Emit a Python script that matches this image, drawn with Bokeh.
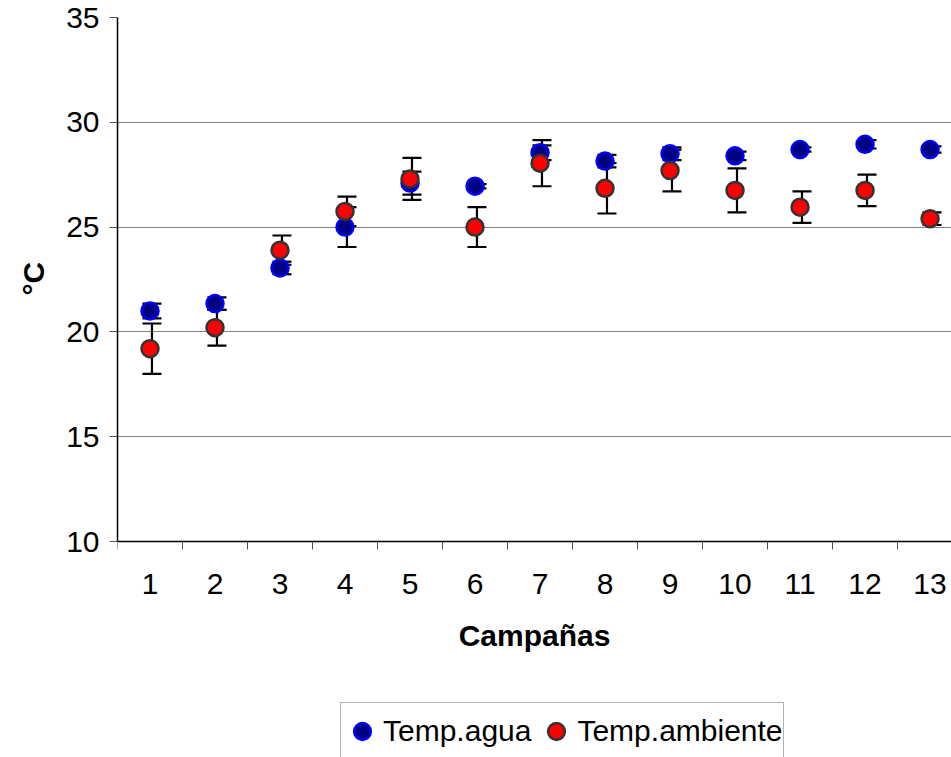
from bokeh.plotting import figure
from bokeh.models import (ColumnDataSource, Whisker, TeeHead, FixedTicker,
                          Legend, LegendItem, Range1d, Title)
from bokeh.transform import dodge
from bokeh.embed import file_html
from bokeh.resources import INLINE

# Campaign numbers
campanas = [1, 2, 3, 4, 5, 6, 7, 8, 9, 10, 11, 12, 13]
campana_labels = [str(c) for c in campanas]

# Water temperature (mean and deviation, °C)
temp_agua = [21.0, 21.35, 23.05, 25.0, 27.1, 26.95, 28.55, 28.15, 28.5, 28.4, 28.7, 28.95, 28.7]
temp_agua_err = [0.35, 0.3, 0.3, 0.95, 0.55, 0.1, 0.35, 0.3, 0.3, 0.2, 0.1, 0.2, 0.15]

# Air temperature (mean and deviation, °C)
temp_ambiente = [19.2, 20.2, 23.9, 25.75, 27.3, 25.0, 28.05, 26.85, 27.7, 26.75, 25.95, 26.75, 25.4]
temp_ambiente_err = [1.2, 0.85, 0.7, 0.7, 1.0, 0.95, 1.1, 1.2, 1.0, 1.05, 0.75, 0.75, 0.3]

y_ticks = [10, 15, 20, 25, 30, 35]

FONT = "Liberation Sans"
FS = "30px"


def with_bounds(vals, errs):
    return dict(x=campanas, y=vals,
                lo=[v - e for v, e in zip(vals, errs)],
                hi=[v + e for v, e in zip(vals, errs)])


src_agua = ColumnDataSource(with_bounds(temp_agua, temp_agua_err))
src_amb = ColumnDataSource(with_bounds(temp_ambiente, temp_ambiente_err))

# The frame runs down to the bottom of the canvas so that the legend can sit
# under the x axis; the x axis itself is pinned at y = 10.
p = figure(width=951, height=757, output_backend="svg", toolbar_location=None,
           x_range=Range1d(0.5, 13.33), y_range=Range1d(-0.305, 35),
           min_border_left=117, min_border_right=0,
           min_border_top=17, min_border_bottom=0)
p.outline_line_color = None
p.background_fill_color = "white"
p.border_fill_color = "white"

# x axis: labels at the campaign centres, tick marks between campaigns
p.xaxis.fixed_location = y_ticks[0]
p.xaxis.ticker = FixedTicker(ticks=campanas,
                             minor_ticks=[c - 0.5 for c in campanas] + [13.5])
p.xaxis.major_label_overrides = {c: l for c, l in zip(campanas, campana_labels)}
p.xaxis.major_tick_out = 0
p.xaxis.major_tick_in = 0
p.xaxis.minor_tick_out = 8
p.xaxis.minor_tick_in = 0
p.xaxis.minor_tick_line_color = "#555555"
p.xaxis.axis_line_color = "black"
p.xaxis.axis_line_width = 1.5
p.xaxis.major_label_standoff = 24
p.xaxis.axis_label = "Campañas"
p.xaxis.axis_label_standoff = 22

# y axis
p.yaxis.ticker = FixedTicker(ticks=y_ticks)
p.yaxis.bounds = (y_ticks[0], y_ticks[-1])
p.yaxis.major_tick_out = 8
p.yaxis.major_tick_in = 0
p.yaxis.major_tick_line_color = "#555555"
p.yaxis.minor_tick_line_color = None
p.yaxis.axis_line_color = "black"
p.yaxis.axis_line_width = 1.5
p.yaxis.major_label_standoff = 10

for ax in (p.xaxis, p.yaxis):
    ax.major_label_text_font = FONT
    ax.major_label_text_font_size = FS
    ax.major_label_text_color = "black"
    ax.axis_label_text_font = FONT
    ax.axis_label_text_font_size = FS
    ax.axis_label_text_font_style = "bold"
    ax.axis_label_text_color = "black"

# y axis title, centred on the 10-35 span rather than the whole frame
p.add_layout(Title(text="°C", align="left", offset=462, standoff=27,
                   text_font=FONT, text_font_size=FS, text_font_style="bold",
                   text_color="black"), "left")

p.xgrid.grid_line_color = None
p.ygrid.ticker = FixedTicker(ticks=y_ticks[1:])
p.ygrid.grid_line_color = "#808080"
p.ygrid.grid_line_width = 1.2

# error bars, drawn beneath all markers
for src in (src_agua, src_amb):
    w = Whisker(source=src, base=dodge("x", 0.03), lower="lo", upper="hi",
                line_color="black", line_width=2.2, level="underlay",
                upper_head=TeeHead(size=19, line_color="black", line_width=2.2),
                lower_head=TeeHead(size=19, line_color="black", line_width=2.2))
    p.add_layout(w)

r_agua = p.scatter("x", "y", source=src_agua, size=17, marker="circle",
                   fill_color="#000080", line_color="#0000FF", line_width=2.5)
r_amb = p.scatter("x", "y", source=src_amb, size=17, marker="circle",
                  fill_color="#FF0000", line_color="#333333", line_width=2.5)

legend = Legend(items=[LegendItem(label="Temp.agua", renderers=[r_agua]),
                       LegendItem(label="Temp.ambiente", renderers=[r_amb])],
                orientation="horizontal", location=(223, -3),
                glyph_width=42, glyph_height=56, padding=0, spacing=4,
                label_standoff=-3, margin=0,
                label_text_font=FONT, label_text_font_size=FS,
                label_text_color="black",
                border_line_color="#666666", border_line_width=1.2,
                background_fill_color="white", background_fill_alpha=1)
p.add_layout(legend)

open("out.html", "w").write(file_html(p, INLINE))
